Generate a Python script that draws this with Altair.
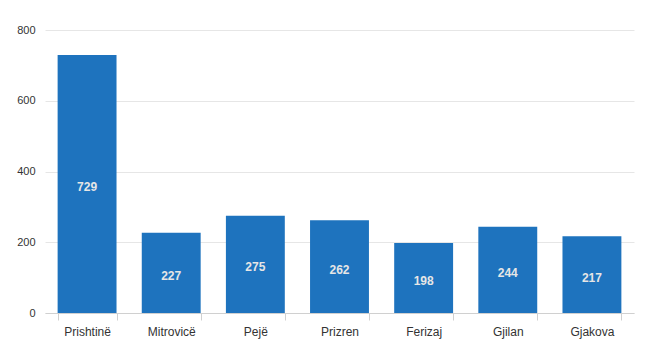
import altair as alt
import pandas as pd

cities = ["Prishtinë", "Mitrovicë", "Pejë", "Prizren", "Ferizaj", "Gjilan", "Gjakova"]
values = [729, 227, 275, 262, 198, 244, 217]

df = pd.DataFrame({"city": cities, "value": values})

x = alt.X("city:N", sort=cities, title=None,
          scale=alt.Scale(paddingInner=0.3, paddingOuter=0.15),
          axis=alt.Axis(labelAngle=0, labelFontSize=12, labelColor="#333333",
                        labelFont="Liberation Sans", labelPadding=6,
                        tickBand="extent", tickSize=7, tickColor="#d0d0d0",
                        domainColor="#d0d0d0", grid=False))
y = alt.Y("value:Q", title=None,
          scale=alt.Scale(domain=[0, 800]),
          axis=alt.Axis(values=[0, 200, 400, 600, 800], labelFontSize=11,
                        labelColor="#333333", labelFont="Liberation Sans",
                        domain=False, ticks=False, labelPadding=10,
                        gridColor="#e6e6e6"))

bars = alt.Chart(df).mark_bar(color="#1e73be").encode(x=x, y=y)

labels = alt.Chart(df).mark_text(
    font="Liberation Sans", fontSize=12, fontWeight="bold", color="#e6e6e6",
    baseline="middle", align="center", dy=3
).transform_calculate(half="datum.value / 2").encode(
    x=alt.X("city:N", sort=cities),
    y=alt.Y("half:Q"),
    text=alt.Text("value:Q"),
)

chart = alt.layer(bars, labels).properties(
    width=589, height=283,
    background="white",
    autosize=alt.AutoSizeParams(type="none"),
    padding={"left": 45, "top": 30, "right": 36, "bottom": 37},
).configure_view(strokeWidth=0, stroke="transparent").configure_axisX(grid=False)

chart.save("out.html", embed_options={"renderer": "svg", "actions": False})
